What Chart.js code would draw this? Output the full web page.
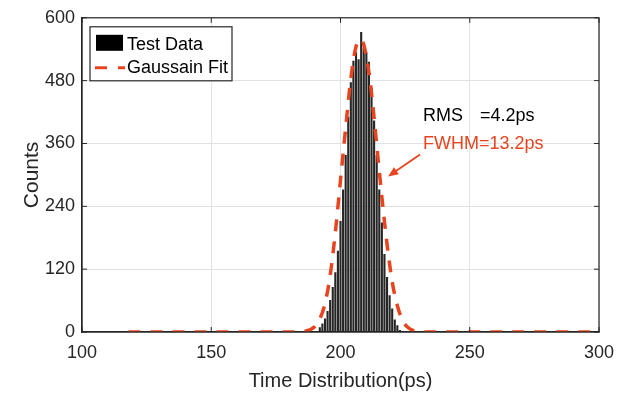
<!DOCTYPE html>
<html>
<head>
<meta charset="utf-8">
<script src="https://cdn.jsdelivr.net/npm/chart.js@4/dist/chart.umd.min.js"></script>
<style>
    html, body { margin: 0; padding: 0; background: #fff; }
    #wrap { width: 625px; height: 395px; }
</style>
</head>
<body>
<div id="wrap"><canvas id="histChart"></canvas></div>
<script>
// histogram bins (ps) and counts
const binCenters = [191, 192, 193, 194, 195, 196, 197, 198, 199, 200, 201, 202, 203, 204, 205, 206, 207,
    208, 209, 210, 211, 212, 213, 214, 215, 216, 217, 218, 219, 220, 221, 222, 223, 224];
const counts = [2, 9, 16, 26, 40, 61, 86, 114, 155, 212, 272, 338, 411, 477, 518, 534, 521,
    573, 543, 534, 516, 467, 404, 338, 272, 209, 149, 105, 70, 45, 24, 13, 4, 1];

// gaussian fit curve
const fitX = [118, 150, 180, 185, 188, 190, 192, 194, 196, 198, 200, 202, 204, 206, 208, 210,
    212, 214, 216, 218, 220, 222, 224, 226, 228, 230, 235, 250, 280, 300];
const fitY = [0, 0, 0, 1, 4, 10, 25, 54, 108, 190, 290, 390, 484, 545, 558, 527,
    456, 358, 258, 168, 96, 50, 22, 9, 3, 1, 0, 0, 0, 0];

const xTicks = [100, 150, 200, 250, 300];
const yTicks = [0, 120, 240, 360, 480, 600];

const legendLabels = ['Test Data', 'Gaussain Fit'];
const rmsText = ['RMS', '=4.2ps'];
const fwhmText = 'FWHM=13.2ps';

const fitColor = '#e8441f';
const axisColor = '#262626';
const fontFamily = '"Liberation Sans", Arial, sans-serif';

// box, inward ticks, legend and the annotations
const extrasPlugin = {
    id: 'extras',
    afterDatasetsDraw(chart) {
        const ctx = chart.ctx;
        const area = chart.chartArea;
        const xs = chart.scales.x;
        const ys = chart.scales.y;
        ctx.save();

        // axes box
        ctx.strokeStyle = axisColor;
        ctx.lineWidth = 1.2;
        ctx.strokeRect(area.left, area.top, area.right - area.left, area.bottom - area.top);

        // inward tick marks
        ctx.lineWidth = 1;
        xTicks.forEach(v => {
            const px = xs.getPixelForValue(v);
            ctx.beginPath();
            ctx.moveTo(px, area.bottom); ctx.lineTo(px, area.bottom - 5);
            ctx.moveTo(px, area.top); ctx.lineTo(px, area.top + 5);
            ctx.stroke();
        });
        yTicks.forEach(v => {
            const py = ys.getPixelForValue(v);
            ctx.beginPath();
            ctx.moveTo(area.left, py); ctx.lineTo(area.left + 5, py);
            ctx.moveTo(area.right, py); ctx.lineTo(area.right - 5, py);
            ctx.stroke();
        });

        // legend
        const lx = area.left + 8, ly = area.top + 9, lw = 142, lh = 54;
        ctx.fillStyle = '#fff';
        ctx.fillRect(lx, ly, lw, lh);
        ctx.strokeStyle = axisColor;
        ctx.lineWidth = 1.2;
        ctx.strokeRect(lx, ly, lw, lh);
        ctx.fillStyle = '#000';
        ctx.fillRect(lx + 6, ly + 8, 27, 16);
        ctx.strokeStyle = fitColor;
        ctx.lineWidth = 3;
        ctx.beginPath();
        ctx.moveTo(lx + 5, ly + 41); ctx.lineTo(lx + 17, ly + 41);
        ctx.moveTo(lx + 28, ly + 41); ctx.lineTo(lx + 35, ly + 41);
        ctx.stroke();
        ctx.fillStyle = '#000';
        ctx.font = '18px ' + fontFamily;
        ctx.textBaseline = 'middle';
        ctx.textAlign = 'left';
        ctx.fillText(legendLabels[0], lx + 37, ly + 18);
        ctx.fillText(legendLabels[1], lx + 37, ly + 41);

        // annotations
        const ax = xs.getPixelForValue(231.9);
        ctx.fillStyle = '#000';
        ctx.fillText(rmsText[0], ax, ys.getPixelForValue(413));
        ctx.fillText(rmsText[1], ax + 57, ys.getPixelForValue(413));
        ctx.fillStyle = fitColor;
        ctx.fillText(fwhmText, ax, ys.getPixelForValue(358));

        // arrow
        const x1 = xs.getPixelForValue(230.8), y1 = ys.getPixelForValue(339);
        const x2 = xs.getPixelForValue(218.4), y2 = ys.getPixelForValue(297);
        const ang = Math.atan2(y2 - y1, x2 - x1);
        ctx.strokeStyle = fitColor;
        ctx.lineWidth = 1.8;
        ctx.beginPath();
        ctx.moveTo(x1, y1); ctx.lineTo(x2 - 6 * Math.cos(ang), y2 - 6 * Math.sin(ang));
        ctx.stroke();
        ctx.beginPath();
        ctx.moveTo(x2, y2);
        ctx.lineTo(x2 - 11 * Math.cos(ang - 0.4), y2 - 11 * Math.sin(ang - 0.4));
        ctx.lineTo(x2 - 11 * Math.cos(ang + 0.4), y2 - 11 * Math.sin(ang + 0.4));
        ctx.closePath();
        ctx.fillStyle = fitColor;
        ctx.fill();

        ctx.restore();
    }
};

const ctx = document.getElementById('histChart').getContext('2d');
const chart = new Chart(ctx, {
    type: 'bar',
    data: {
        datasets: [{
            type: 'line',
            label: legendLabels[1],
            data: fitX.map((x, i) => ({ x: x, y: fitY[i] })),
            borderColor: fitColor,
            borderWidth: 3.5,
            borderDash: [12, 10],
            pointRadius: 0,
            cubicInterpolationMode: 'monotone',
            fill: false,
            order: 0
        }, {
            type: 'bar',
            label: legendLabels[0],
            data: binCenters.map((x, i) => ({ x: x, y: counts[i] })),
            backgroundColor: '#262626',
            barPercentage: 0.82,
            categoryPercentage: 1,
            order: 1
        }]
    },
    options: {
        responsive: true,
        maintainAspectRatio: false,
        animation: false,
        layout: { padding: { top: 15, right: 26, left: 0, bottom: 0 } },
        plugins: {
            legend: { display: false },
            tooltip: { enabled: false }
        },
        scales: {
            x: {
                type: 'linear',
                offset: false,
                min: 100,
                max: 300,
                afterFit: scale => { scale.height = 63; },
                afterBuildTicks: scale => { scale.ticks = xTicks.map(v => ({ value: v })); },
                ticks: {
                    color: axisColor,
                    font: { family: fontFamily, size: 18 },
                    padding: 10,
                    maxRotation: 0
                },
                grid: { color: '#e2e2e2', drawTicks: false, offset: false },
                border: { color: axisColor, width: 1.2 },
                title: {
                    display: true,
                    text: 'Time Distribution(ps)',
                    color: axisColor,
                    font: { family: fontFamily, size: 20 },
                    padding: { top: 0, bottom: 2 }
                }
            },
            y: {
                min: 0,
                max: 600,
                afterFit: scale => { scale.width = 82; },
                afterBuildTicks: scale => { scale.ticks = yTicks.map(v => ({ value: v })); },
                ticks: {
                    color: axisColor,
                    font: { family: fontFamily, size: 18 },
                    padding: 7
                },
                grid: { color: '#e2e2e2', drawTicks: false },
                border: { color: axisColor, width: 1.2 },
                title: {
                    display: true,
                    text: 'Counts',
                    color: axisColor,
                    font: { family: fontFamily, size: 21 },
                    padding: { top: 20, bottom: 0 }
                }
            }
        }
    },
    plugins: [extrasPlugin]
});
</script>
</body>
</html>
